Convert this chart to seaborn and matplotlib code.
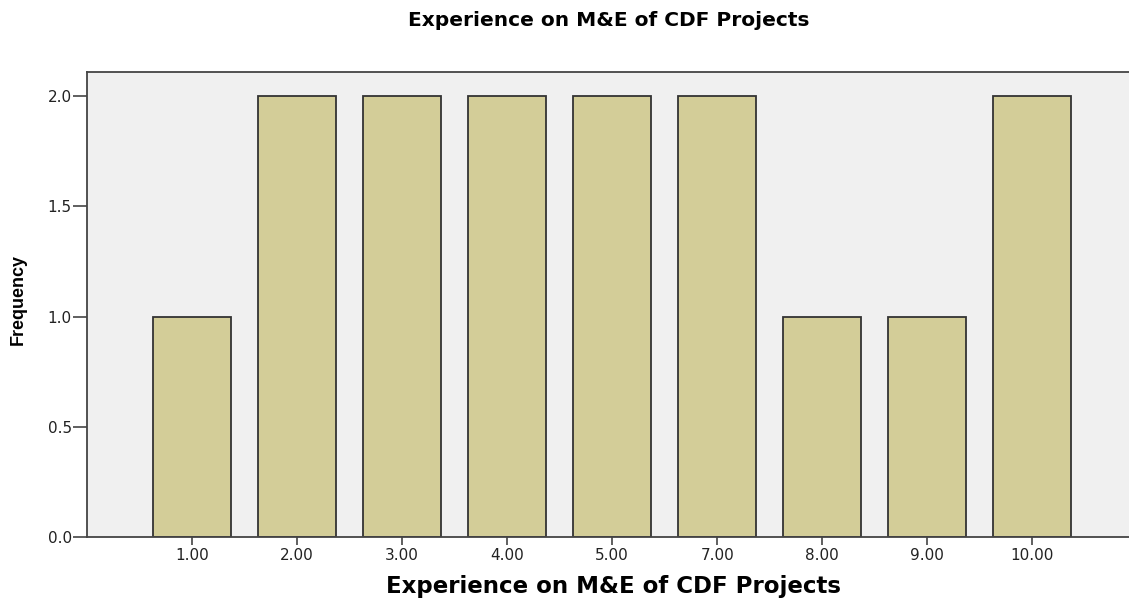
import pandas as pd
import matplotlib
matplotlib.use('Agg')
import matplotlib.pyplot as plt
import matplotlib.ticker as mticker
import seaborn as sns

experience = ['1.00', '2.00', '3.00', '4.00', '5.00', '7.00', '8.00', '9.00', '10.00']
frequency = [1, 2, 2, 2, 2, 2, 1, 1, 2]

df = pd.DataFrame({'experience': experience, 'frequency': frequency})

sns.set_style('white')
plt.rcParams['font.family'] = ['DejaVu Sans']

fig = plt.figure(figsize=(11.29, 5.99), dpi=100)
ax = fig.add_axes([0.077, 0.1035, 0.923, 0.7763])
ax.set_facecolor('#f0f0f0')

sns.barplot(x='experience', y='frequency', data=df, color='#d3cd98',
            edgecolor='#333333', linewidth=1.3, width=0.745, saturation=1, ax=ax)

ax.set_xlim(-1.0, 8.92)
ax.set_ylim(0, 2.11)
ax.set_yticks([0, 0.5, 1.0, 1.5, 2.0])
ax.yaxis.set_major_formatter(mticker.FormatStrFormatter('%.1f'))

for side in ['left', 'bottom', 'top']:
    ax.spines[side].set_color('#444444')
    ax.spines[side].set_linewidth(1.3)
ax.spines['right'].set_visible(False)

ax.tick_params(axis='both', direction='out', width=1.2, color='#444444',
               labelsize=11, labelcolor='#222222', left=True, bottom=True)
ax.tick_params(axis='y', length=10, pad=1)
ax.tick_params(axis='x', length=6, pad=2)

ax.set_xlabel('Experience on M&E of CDF Projects', fontsize=16.5, fontweight='bold',
              va='center', color='black')
ax.xaxis.set_label_coords(0.505, -0.1075)
ax.set_ylabel('Frequency', fontsize=13, fontweight='bold', va='center', color='black',
              family=['Liberation Sans Narrow', 'Liberation Sans'])
ax.yaxis.set_label_coords(-0.066, 0.51)
fig.text(0.539, 0.965, 'Experience on M&E of CDF Projects', fontsize=14.5,
         fontweight='bold', ha='center', va='center', color='black')

fig.savefig('out.png', dpi=100)
